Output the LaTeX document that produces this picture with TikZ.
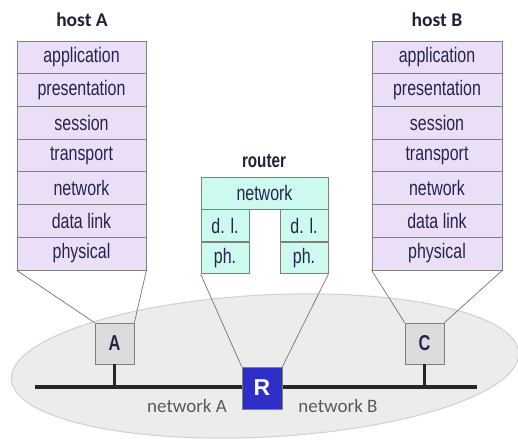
\documentclass[tikz,border=0pt]{standalone}
\usepackage{fontspec}
\setmainfont{Liberation Sans}[FakeStretch=0.76]
\newfontfamily\titlefont{Carlito}
\newfontfamily\plainsans{Liberation Sans}
\usetikzlibrary{positioning}

\definecolor{hostfill}{HTML}{EADFF7}
\definecolor{routerfill}{HTML}{CCFAEE}
\definecolor{layerline}{HTML}{7F7F7F}
\definecolor{laytext}{HTML}{24244E}
\definecolor{titletext}{HTML}{1E2236}
\definecolor{boxfill}{HTML}{DCDCDC}
\definecolor{rfill}{HTML}{2E2EC8}
\definecolor{netfill}{HTML}{ECECEC}
\definecolor{netline}{HTML}{D0D0D0}

\tikzset{
  layer/.style={draw=layerline, fill=hostfill, line width=0.8pt, inner sep=0pt,
    minimum width=129pt, minimum height=32.7pt, text=laytext,
    font=\fontsize{21}{23}\selectfont},
  rlayer/.style={layer, fill=routerfill},
  hostbox/.style={draw=layerline, fill=boxfill, line width=0.8pt, inner sep=0pt,
    minimum width=39pt, minimum height=41pt, text=laytext,
    font=\bfseries\fontsize{21.5}{23}\selectfont},
  title/.style={text=titletext, font=\titlefont\bfseries\fontsize{19.5}{21}\selectfont},
  netlabel/.style={text=black!65, font=\titlefont\fontsize{19}{21}\selectfont},
  link/.style={draw=black!55, line width=0.7pt},
  bus/.style={draw=black!85, line width=3.2pt}
}

\begin{document}
\begin{tikzpicture}[x=1pt,y=-1pt]
  \useasboundingbox (0,0) rectangle (518,439);

  % the network cloud
  \draw [netline, fill=netfill, line width=1pt, rotate around={3:(265,366)}] (265,366) ellipse (254 and 71);

  % layer stacks of the two hosts
  \foreach \name [count=\i] in {application,presentation,session,transport,network,data link,physical} {
    \node [layer] (hA\i) at (81.5,24.65+32.7*\i) {\name};
    \node [layer, minimum width=130pt] (hB\i) at (437,24.65+32.7*\i) {\name};
  }
  \node [title] (tA) at (82,20) {host A};
  \node [title] (tB) at (437,20) {host B};

  % router
  \node [title, font=\bfseries\fontsize{20}{22}\selectfont] (tR) at (264,161) {router};
  \node [rlayer, minimum width=127pt, minimum height=32pt] (rnet) at (264.5,193) {network};
  \node [rlayer, minimum width=48pt, minimum height=31.5pt, anchor=north west] (rdlL) at (rnet.south west) {d. l.};
  \node [rlayer, minimum width=48pt, minimum height=31.5pt, anchor=north west] (rphL) at (rdlL.south west) {ph.};
  \node [rlayer, minimum width=48pt, minimum height=31.5pt, anchor=north east] (rdlR) at (rnet.south east) {d. l.};
  \node [rlayer, minimum width=48pt, minimum height=31.5pt, anchor=north east] (rphR) at (rdlR.south east) {ph.};

  % bus
  \coordinate (busL) at (35,387);
  \coordinate (busR) at (477,387);
  \draw [bus] (busL) -- (busR);

  \node [hostbox] (boxA) at (114.5,343.5) {A};
  \node [hostbox] (boxC) at (424.5,343.5) {C};
  \draw [bus] (boxA.south) -- (boxA.south |- busL);
  \draw [bus] (boxC.south) -- (boxC.south |- busR);
  \node [hostbox, fill=rfill, minimum width=40pt, minimum height=42pt, text=white,
    font=\plainsans\bfseries\fontsize{23}{25}\selectfont] (R) at (262,388) {R};

  \node [netlabel] (nA) at (187,406) {network A};
  \node [netlabel] (nB) at (338,406) {network B};

  % zoom lines
  \draw [link] (hA7.south west) -- (boxA.north west);
  \draw [link] (hA7.south east) -- (boxA.north east);
  \draw [link] (hB7.south west) -- (boxC.north west);
  \draw [link] (hB7.south east) -- (boxC.north east);
  \draw [link] (rphL.south west) -- (R.north west);
  \draw [link] (rphR.south east) -- (R.north east);
\end{tikzpicture}
\end{document}
